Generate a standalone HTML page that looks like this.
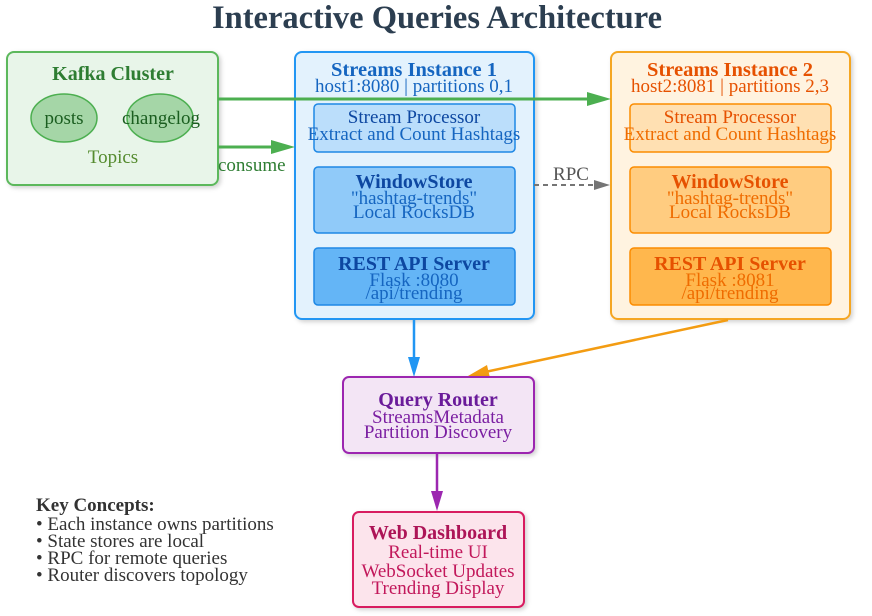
<!DOCTYPE html>
<html><head><meta charset="utf-8"><style>
html,body{margin:0;padding:0;background:#fff;}
svg{display:block;font-family:"Liberation Serif",serif;}
</style></head><body>
<svg width="872" height="616" viewBox="0 0 872 616" xmlns="http://www.w3.org/2000/svg">
<defs>
<filter id="sh" x="-10%" y="-10%" width="130%" height="130%"><feDropShadow dx="2" dy="2" stdDeviation="2" flood-color="#000" flood-opacity="0.18"/></filter>
</defs>
<text x="437" y="28" text-anchor="middle" font-size="32.5" font-weight="bold" fill="#2c3e50">Interactive Queries Architecture</text>

<!-- Kafka -->
<rect x="7" y="52" width="211" height="133" rx="7" fill="#e8f5e9" stroke="#5cb85c" stroke-width="2" filter="url(#sh)"/>
<text x="113" y="80" text-anchor="middle" font-size="20" font-weight="bold" fill="#2e7d32">Kafka Cluster</text>
<ellipse cx="64" cy="118" rx="33" ry="24" fill="#a5d6a7" stroke="#4caf50" stroke-width="1.5"/>
<ellipse cx="160" cy="118" rx="33" ry="24" fill="#a5d6a7" stroke="#4caf50" stroke-width="1.5"/>
<text x="64" y="124" text-anchor="middle" font-size="19" fill="#1b5e20">posts</text>
<text x="161" y="124" text-anchor="middle" font-size="19" fill="#1b5e20">changelog</text>
<text x="113" y="163" text-anchor="middle" font-size="19" fill="#558b2f">Topics</text>

<!-- Instance 1 -->
<rect x="295" y="52" width="239" height="267" rx="7" fill="#e3f2fd" stroke="#2196f3" stroke-width="2" filter="url(#sh)"/>
<text x="414" y="76" text-anchor="middle" font-size="20.5" font-weight="bold" fill="#1565c0">Streams Instance 1</text>
<text x="414" y="92" text-anchor="middle" font-size="19" fill="#1565c0">host1:8080 | partitions 0,1</text>
<rect x="314" y="104" width="201" height="48" rx="4" fill="#bbdefb" stroke="#1e88e5" stroke-width="1.5"/>
<text x="414" y="123" text-anchor="middle" font-size="19" fill="#0d47a1">Stream Processor</text>
<text x="414" y="140" text-anchor="middle" font-size="19" fill="#1565c0">Extract and Count Hashtags</text>
<rect x="314" y="167" width="201" height="66" rx="4" fill="#90caf9" stroke="#1e88e5" stroke-width="1.5"/>
<text x="414" y="188" text-anchor="middle" font-size="20" font-weight="bold" fill="#0d47a1">WindowStore</text>
<text x="414" y="204" text-anchor="middle" font-size="19" fill="#1565c0">"hashtag-trends"</text>
<text x="414" y="218" text-anchor="middle" font-size="19" fill="#1565c0">Local RocksDB</text>
<rect x="314" y="248" width="201" height="57" rx="4" fill="#64b5f6" stroke="#1e88e5" stroke-width="1.5"/>
<text x="414" y="270" text-anchor="middle" font-size="20" font-weight="bold" fill="#0d47a1">REST API Server</text>
<text x="414" y="286" text-anchor="middle" font-size="19" fill="#1565c0">Flask :8080</text>
<text x="414" y="299" text-anchor="middle" font-size="19" fill="#1565c0">/api/trending</text>

<!-- Instance 2 -->
<rect x="611" y="52" width="239" height="267" rx="7" fill="#fff3e0" stroke="#f5a623" stroke-width="2" filter="url(#sh)"/>
<text x="730" y="76" text-anchor="middle" font-size="20.5" font-weight="bold" fill="#e65100">Streams Instance 2</text>
<text x="730" y="92" text-anchor="middle" font-size="19" fill="#e65100">host2:8081 | partitions 2,3</text>
<rect x="630" y="104" width="201" height="48" rx="4" fill="#ffe0b2" stroke="#fb8c00" stroke-width="1.5"/>
<text x="730" y="123" text-anchor="middle" font-size="19" fill="#e65100">Stream Processor</text>
<text x="730" y="140" text-anchor="middle" font-size="19" fill="#ef6c00">Extract and Count Hashtags</text>
<rect x="630" y="167" width="201" height="66" rx="4" fill="#ffcc80" stroke="#fb8c00" stroke-width="1.5"/>
<text x="730" y="188" text-anchor="middle" font-size="20" font-weight="bold" fill="#e65100">WindowStore</text>
<text x="730" y="204" text-anchor="middle" font-size="19" fill="#ef6c00">"hashtag-trends"</text>
<text x="730" y="218" text-anchor="middle" font-size="19" fill="#ef6c00">Local RocksDB</text>
<rect x="630" y="248" width="201" height="57" rx="4" fill="#ffb74d" stroke="#fb8c00" stroke-width="1.5"/>
<text x="730" y="270" text-anchor="middle" font-size="20" font-weight="bold" fill="#e65100">REST API Server</text>
<text x="730" y="286" text-anchor="middle" font-size="19" fill="#ef6c00">Flask :8081</text>
<text x="730" y="299" text-anchor="middle" font-size="19" fill="#ef6c00">/api/trending</text>

<!-- green arrows -->
<line x1="218" y1="99" x2="592" y2="99" stroke="#4caf50" stroke-width="3"/>
<polygon points="611,99 587,92 587,106" fill="#4caf50"/>
<line x1="218" y1="147" x2="276" y2="147" stroke="#4caf50" stroke-width="3"/>
<polygon points="295,147 271,140 271,154" fill="#4caf50"/>
<text x="218" y="171" font-size="19" fill="#2e7d32">consume</text>

<!-- RPC -->
<line x1="534" y1="185" x2="596" y2="185" stroke="#757575" stroke-width="2" stroke-dasharray="5,4"/>
<polygon points="610,185 594,180 594,190" fill="#757575"/>
<text x="571" y="180" text-anchor="middle" font-size="19" fill="#555">RPC</text>

<!-- to router -->
<line x1="414" y1="319" x2="414" y2="360" stroke="#2196f3" stroke-width="2.5"/>
<polygon points="414,377 408,357 420,357" fill="#2196f3"/>
<line x1="728" y1="320" x2="485" y2="372" stroke="#f39c12" stroke-width="2.5"/>
<polygon points="468,376 487,365 490,378" fill="#f39c12"/>

<!-- Query Router -->
<rect x="343" y="377" width="191" height="76" rx="6" fill="#f3e5f5" stroke="#9c27b0" stroke-width="2" filter="url(#sh)"/>
<text x="438" y="406" text-anchor="middle" font-size="20" font-weight="bold" fill="#6a1b9a">Query Router</text>
<text x="438" y="423" text-anchor="middle" font-size="19" fill="#7b1fa2">StreamsMetadata</text>
<text x="438" y="438" text-anchor="middle" font-size="19" fill="#7b1fa2">Partition Discovery</text>

<line x1="437" y1="453" x2="437" y2="494" stroke="#9c27b0" stroke-width="2.5"/>
<polygon points="437,511 431,491 443,491" fill="#9c27b0"/>

<!-- Web Dashboard -->
<rect x="353" y="512" width="171" height="95" rx="6" fill="#fce4ec" stroke="#d81b60" stroke-width="2" filter="url(#sh)"/>
<text x="438" y="539" text-anchor="middle" font-size="20" font-weight="bold" fill="#ad1457">Web Dashboard</text>
<text x="438" y="558" text-anchor="middle" font-size="19" fill="#c2185b">Real-time UI</text>
<text x="438" y="577" text-anchor="middle" font-size="19" fill="#c2185b">WebSocket Updates</text>
<text x="438" y="594" text-anchor="middle" font-size="19" fill="#c2185b">Trending Display</text>

<!-- Key concepts -->
<text x="36" y="511" font-size="19" font-weight="bold" fill="#333">Key Concepts:</text>
<text x="36" y="530" font-size="19" fill="#333">• Each instance owns partitions</text>
<text x="36" y="547" font-size="19" fill="#333">• State stores are local</text>
<text x="36" y="564" font-size="19" fill="#333">• RPC for remote queries</text>
<text x="36" y="581" font-size="19" fill="#333">• Router discovers topology</text>
</svg>
</body></html>
